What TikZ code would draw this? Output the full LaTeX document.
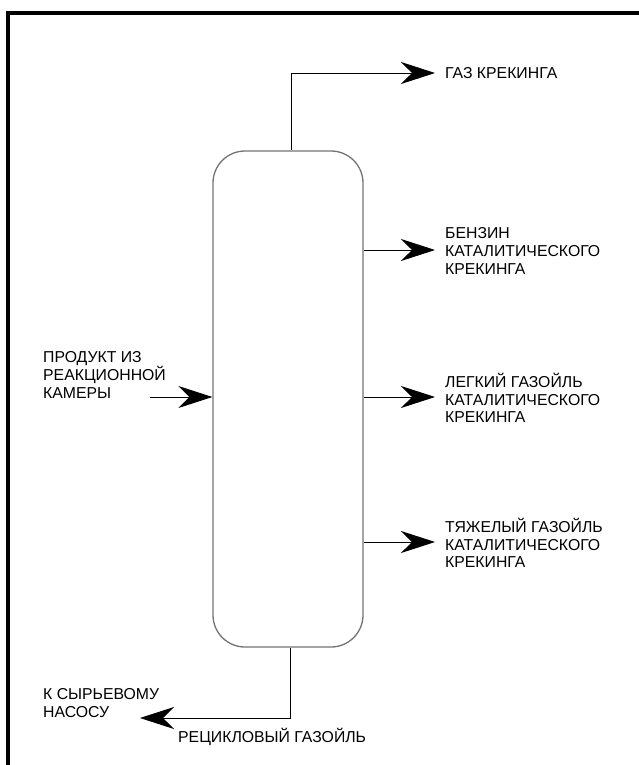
\documentclass[tikz,border=0pt]{standalone}
\usepackage{fontspec}
\setmainfont{Liberation Sans}
\usetikzlibrary{arrows.meta}
\begin{document}
\begin{tikzpicture}[x=1pt,y=-1pt,
  lbl/.style={font=\fontsize{15.8}{17.7}\selectfont, align=left, inner sep=0pt, anchor=west},
  flow/.style={line width=0.9pt, -{Stealth[length=34pt,width=22pt,inset=11pt]}},
  column/.style={draw=black!55, line width=1.3pt, rounded corners=32pt, minimum width=150pt, minimum height=496pt, inner sep=0pt}]
\useasboundingbox (0,0) rectangle (638,765);
\draw[line width=4pt, line join=miter] (8,767) -- (8,13) -- (640,13);
\node[column] (col) at (288,399) {};
% top output
\coordinate (tp) at (291,73);
\node[lbl] (gaz) at (445,73) {ГАЗ КРЕКИНГА};
\coordinate (gazend) at (435,73);
\draw[flow] (tp |- col.north) -- (tp) -- (gazend);
% side outputs
\node[lbl] (benz) at (445,251) {БЕНЗИН\\КАТАЛИТИЧЕСКОГО\\КРЕКИНГА};
\coordinate (benzend) at (435,250);
\draw[flow] (benzend -| col.east) -- (benzend);
\node[lbl] (lgo) at (445,398) {ЛЕГКИЙ ГАЗОЙЛЬ\\КАТАЛИТИЧЕСКОГО\\КРЕКИНГА};
\coordinate (lgoend) at (435,397);
\draw[flow] (lgoend -| col.east) -- (lgoend);
\node[lbl] (hgo) at (445,543) {ТЯЖЕЛЫЙ ГАЗОЙЛЬ\\КАТАЛИТИЧЕСКОГО\\КРЕКИНГА};
\coordinate (hgoend) at (435,542);
\draw[flow] (hgoend -| col.east) -- (hgoend);
% input
\node[lbl] (feed) at (43,375) {ПРОДУКТ ИЗ\\РЕАКЦИОННОЙ\\КАМЕРЫ};
\coordinate (feedstart) at (150,397);
\draw[flow] (feedstart) -- (feedstart -| col.west);
% bottom output
\coordinate (bp) at (290,718);
\coordinate (pumpend) at (140,718);
\draw[flow] (bp |- col.south) -- (bp) -- (pumpend);
\node[lbl] (pump) at (43,703) {К СЫРЬЕВОМУ\\НАСОСУ};
\node[lbl] (rec) at (178,737) {РЕЦИКЛОВЫЙ ГАЗОЙЛЬ};
\end{tikzpicture}
\end{document}
